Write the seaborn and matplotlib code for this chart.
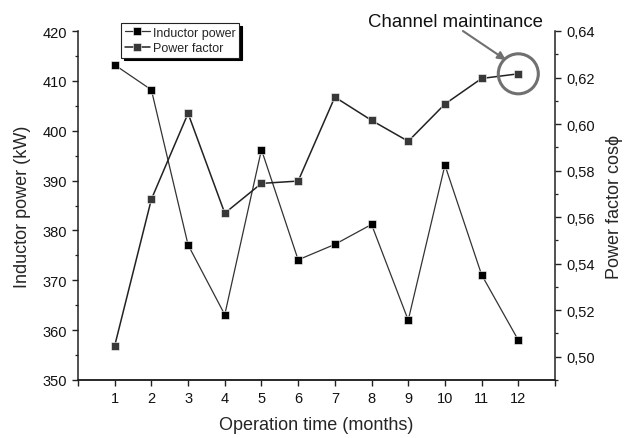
import matplotlib
matplotlib.use("Agg")
from matplotlib import pyplot as plt
from matplotlib.ticker import FixedLocator, MultipleLocator
import pandas as pd
import seaborn as sns

months = [1, 2, 3, 4, 5, 6, 7, 8, 9, 10, 11, 12]
inductor_power = [413.2, 408.2, 377.1, 363.1, 396.2, 374.1, 377.2, 381.2, 362.0, 393.1, 371.1, 358.0]
power_factor = [0.5047, 0.5677, 0.6046, 0.5617, 0.5745, 0.5755, 0.6116, 0.6016, 0.5926, 0.6086, 0.6196, 0.6216]

left_ticks = [350, 360, 370, 380, 390, 400, 410, 420]
right_ticks = [0.50, 0.52, 0.54, 0.56, 0.58, 0.60, 0.62, 0.64]
x_ticks = [0, 1, 2, 3, 4, 5, 6, 7, 8, 9, 10, 11, 12, 13]

df = pd.DataFrame({"month": months, "power": inductor_power, "pf": power_factor})

sns.set_theme(style="ticks")
plt.rcParams["font.family"] = ["Liberation Sans", "DejaVu Sans"]

fig = plt.figure(figsize=(6.24, 4.39), dpi=100)
ax = fig.add_axes([78 / 624, 1 - 381 / 439, 477 / 624, 349 / 439])
ax2 = ax.twinx()

sns.lineplot(data=df, x="month", y="power", ax=ax, color="#333333", lw=0.9,
             marker="s", markersize=6, markerfacecolor="black",
             markeredgecolor="white", markeredgewidth=0.4, label="Inductor power",
             legend=False)
sns.lineplot(data=df, x="month", y="pf", ax=ax2, color="#222222", lw=1.1,
             marker="s", markersize=6, markerfacecolor="#383838",
             markeredgecolor="white", markeredgewidth=0.4, label="Power factor",
             legend=False)

ax.set_xlim(0, 13)
ax.set_ylim(350, 420)
ax2.set_ylim(0.49, 0.64)

ax.xaxis.set_major_locator(FixedLocator(x_ticks))
ax.set_xticklabels(["" if t in (0, 13) else str(t) for t in x_ticks])
ax.yaxis.set_major_locator(FixedLocator(left_ticks))
ax.yaxis.set_minor_locator(MultipleLocator(5))
ax2.yaxis.set_major_locator(FixedLocator(right_ticks))
ax2.set_yticklabels([f"{t:.2f}".replace(".", ",") for t in right_ticks])
ax2.yaxis.set_minor_locator(MultipleLocator(0.01))

for a in (ax, ax2):
    a.spines["top"].set_visible(False)
    for s in a.spines.values():
        s.set_linewidth(1.1)
        s.set_color("#222222")
    a.tick_params(which="major", direction="out", length=4.5, width=1.0,
                  color="#222222", labelsize=10.5, labelcolor="#111111")
    a.tick_params(which="minor", direction="out", length=2.5, width=0.9,
                  color="#222222")
ax.spines["right"].set_visible(False)
ax2.spines["left"].set_visible(False)

ax.set_xlabel("Operation time (months)", fontsize=13, labelpad=8)
ax.set_ylabel("Inductor power (kW)", fontsize=13, labelpad=8)
ax2.set_ylabel("Power factor cos\u03d5", fontsize=13, labelpad=8)

# highlight the last point
ax2.scatter([months[-1]], [power_factor[-1]], s=830, facecolors="none",
            edgecolors="#707070", linewidths=2.2, zorder=5)
ax2.annotate("", xy=(0.897, 0.917), xytext=(0.807, 1.0),
             xycoords="axes fraction", textcoords="axes fraction",
             arrowprops=dict(arrowstyle="-|>", color="#707070", lw=1.5,
                             mutation_scale=12, shrinkA=0, shrinkB=0),
             annotation_clip=False)
ax2.text(0.975, 1.014, "Channel maintinance", transform=ax2.transAxes,
         ha="right", va="baseline", fontsize=13.4, color="#111111")

h1, l1 = ax.get_legend_handles_labels()
h2, l2 = ax2.get_legend_handles_labels()
leg = fig.legend(h1 + h2, l1 + l2, loc="upper left",
                 bbox_to_anchor=(121 / 624, 1 - 24 / 439), borderaxespad=0,
                 fontsize=9, handlelength=2.0, handletextpad=0.25,
                 labelspacing=0.25, borderpad=0.3, fancybox=False,
                 edgecolor="#222222", framealpha=1,
                 shadow={"color": "black", "alpha": 1})
leg.get_frame().set_linewidth(0.8)

fig.savefig("out.png", dpi=100)
